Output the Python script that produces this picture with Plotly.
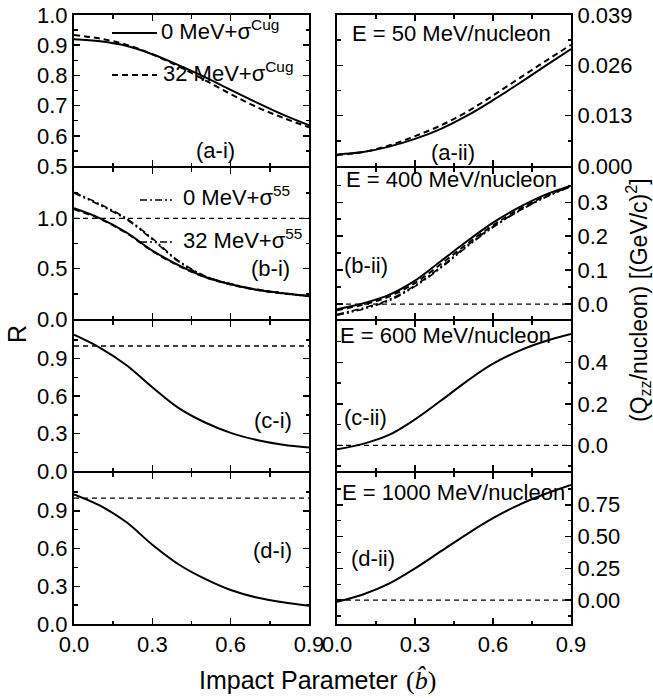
import plotly.graph_objects as go

W, H = 653, 698

# ---------------- data ----------------
B = [0.0, 0.1, 0.2, 0.3, 0.4, 0.5, 0.6, 0.7, 0.8, 0.9]

# (a-i) R, E = 50 MeV/nucleon
A_I_0CUG = [0.920, 0.913, 0.898, 0.870, 0.834, 0.795, 0.752, 0.710, 0.670, 0.635]
A_I_32CUG = [0.934, 0.922, 0.902, 0.870, 0.830, 0.785, 0.738, 0.695, 0.660, 0.628]
# (a-ii) Qzz
A_II_0CUG = [0.0030, 0.0036, 0.0050, 0.0070, 0.0096, 0.0130, 0.0170, 0.0213, 0.0258, 0.0302]
A_II_32CUG = [0.0028, 0.0036, 0.0053, 0.0077, 0.0105, 0.0140, 0.0182, 0.0226, 0.0270, 0.0313]

# (b-i) R, E = 400 MeV/nucleon
B_I_0CUG = [1.10, 1.00, 0.86, 0.68, 0.535, 0.42, 0.345, 0.29, 0.255, 0.228]
B_I_32CUG = [1.09, 0.995, 0.855, 0.675, 0.530, 0.418, 0.343, 0.289, 0.254, 0.227]
B_I_0S55 = [1.26, 1.14, 1.00, 0.80, 0.58, 0.43, 0.35, 0.295, 0.258, 0.230]
B_I_32S55 = [1.25, 1.13, 0.99, 0.79, 0.57, 0.425, 0.347, 0.293, 0.257, 0.229]
# (b-ii) Qzz
B_II_0CUG = [-0.015, 0.002, 0.027, 0.069, 0.127, 0.185, 0.240, 0.285, 0.322, 0.349]
B_II_32CUG = [-0.018, -0.002, 0.022, 0.062, 0.118, 0.177, 0.232, 0.279, 0.318, 0.347]
B_II_0S55 = [-0.030, -0.012, 0.013, 0.055, 0.110, 0.172, 0.228, 0.275, 0.315, 0.347]
B_II_32S55 = [-0.033, -0.015, 0.010, 0.052, 0.107, 0.169, 0.226, 0.274, 0.314, 0.346]

# (c-i) R, E = 600 MeV/nucleon
C_I = [1.09, 0.985, 0.848, 0.670, 0.505, 0.390, 0.305, 0.248, 0.210, 0.187]
# (c-ii) Qzz
C_II = [-0.019, 0.007, 0.050, 0.125, 0.216, 0.310, 0.394, 0.456, 0.502, 0.537]

# (d-i) R, E = 1000 MeV/nucleon
D_I = [1.03, 0.940, 0.810, 0.630, 0.475, 0.360, 0.270, 0.210, 0.172, 0.145]
# (d-ii) Qzz
D_II = [-0.013, 0.045, 0.130, 0.250, 0.385, 0.520, 0.645, 0.750, 0.835, 0.906]

REF_X = [0.0, 0.9]
REF_R = [1.0, 1.0]
REF_Q = [0.0, 0.0]

ENERGY_LABELS = ["E = 50 MeV/nucleon", "E = 400 MeV/nucleon",
                 "E = 600 MeV/nucleon", "E = 1000 MeV/nucleon"]
PANEL_LEFT = ["(a-i)", "(b-i)", "(c-i)", "(d-i)"]
PANEL_RIGHT = ["(a-ii)", "(b-ii)", "(c-ii)", "(d-ii)"]

X_TICKS = [0.0, 0.3, 0.6, 0.9]
LEFT_RANGES = [[0.5, 1.0], [0.0, 1.5], [0.0, 1.2], [0.0, 1.2]]
LEFT_TICKS = [[0.5, 0.6, 0.7, 0.8, 0.9, 1.0], [0.0, 0.5, 1.0],
              [0.0, 0.3, 0.6, 0.9], [0.0, 0.3, 0.6, 0.9]]
LEFT_MINOR = [0.05, 0.25, 0.15, 0.15]
RIGHT_RANGES = [[0.0, 0.039], [-0.044, 0.401], [-0.124, 0.6], [-0.1875, 1.0]]
RIGHT_TICKS = [[0.0, 0.013, 0.026, 0.039], [0.0, 0.1, 0.2, 0.3],
               [0.0, 0.2, 0.4], [0.0, 0.25, 0.5, 0.75]]
RIGHT_FMT = [".3f", ".1f", ".1f", ".2f"]
RIGHT_MINOR = [0.0065, 0.05, 0.1, 0.125]

# ---------------- layout geometry ----------------
FONT = "Liberation Sans, Arial, sans-serif"
FS = 22
XL = [74 / W, 309 / W]
XR = [337 / W, 571 / W]
# rows leave a 2 px gap so the shared frame lines overlap exactly
ROWS_PX = [(15, 166), (168, 319), (321, 471), (473, 624)]


def px(x):
    return x / W


def py(y):
    return 1 - y / H


fig = go.Figure()

DASH = "6px,4px"
DASHDOT = "7px,3px,2px,3px"
DASHDOTDOT = "7px,3px,2px,3px,2px,3px"
REFDASH = "5px,4px"


def add(i, y, dash="solid", width=2.0):
    fig.add_trace(go.Scatter(
        x=B, y=y, mode="lines", xaxis=f"x{i}", yaxis=f"y{i}",
        line=dict(color="black", width=width, dash=dash, shape="spline", smoothing=1.0),
        showlegend=False, hoverinfo="skip"))


def add_ref(i, y):
    fig.add_trace(go.Scatter(
        x=REF_X, y=y, mode="lines", xaxis=f"x{i}", yaxis=f"y{i}",
        line=dict(color="black", width=1.3, dash=REFDASH),
        showlegend=False, hoverinfo="skip"))


# row 1
add(1, A_I_0CUG)
add(1, A_I_32CUG, DASH)
add(2, A_II_0CUG)
add(2, A_II_32CUG, DASH)
# row 2
add_ref(3, REF_R)
add(3, B_I_32CUG, DASH)
add(3, B_I_0S55, DASHDOT, 1.6)
add(3, B_I_32S55, DASHDOTDOT, 1.6)
add(3, B_I_0CUG)
add_ref(4, REF_Q)
add(4, B_II_32CUG, DASH)
add(4, B_II_0S55, DASHDOT, 1.6)
add(4, B_II_32S55, DASHDOTDOT, 1.6)
add(4, B_II_0CUG)
# row 3
add_ref(5, REF_R)
add(5, C_I)
add_ref(6, REF_Q)
add(6, C_II)
# row 4
add_ref(7, REF_R)
add(7, D_I)
add_ref(8, REF_Q)
add(8, D_II)

layout = dict(
    width=W, height=H,
    margin=dict(l=0, r=0, t=0, b=0),
    paper_bgcolor="white", plot_bgcolor="white",
    showlegend=False,
    font=dict(family=FONT, size=FS, color="black"),
)

common_axis = dict(
    showline=True, linecolor="black", linewidth=2, mirror="ticks",
    ticks="inside", ticklen=6, tickwidth=1.5, tickcolor="black",
    showgrid=False, zeroline=False, automargin=False, fixedrange=True,
    tickfont=dict(family=FONT, size=FS, color="black"),
)

for r in range(4):
    top, bot = ROWS_PX[r]
    ydom = [py(bot), py(top)]
    for c in range(2):
        i = r * 2 + c + 1
        xd = XL if c == 0 else XR
        xa = dict(common_axis)
        xa.update(domain=xd, range=[0, 0.9], anchor=f"y{i}",
                  tickmode="array", tickvals=X_TICKS, tickformat=".1f",
                  showticklabels=(r == 3),
                  minor=dict(tickmode="linear", tick0=0, dtick=0.15, ticks="inside",
                             ticklen=3.5, tickwidth=1.5, tickcolor="black"))
        ya = dict(common_axis)
        if c == 0:
            ya.update(domain=ydom, range=LEFT_RANGES[r], anchor=f"x{i}", side="left",
                      tickmode="array", tickvals=LEFT_TICKS[r], tickformat=".1f",
                      minor=dict(tickmode="linear", tick0=0, dtick=LEFT_MINOR[r],
                                 ticks="inside", ticklen=3.5, tickwidth=1.5,
                                 tickcolor="black"))
        else:
            ya.update(domain=ydom, range=RIGHT_RANGES[r], anchor=f"x{i}", side="right",
                      tickmode="array", tickvals=RIGHT_TICKS[r], tickformat=RIGHT_FMT[r],
                      minor=dict(tickmode="linear", tick0=0, dtick=RIGHT_MINOR[r],
                                 ticks="inside", ticklen=3.5, tickwidth=1.5,
                                 tickcolor="black"))
        layout[f"xaxis{i}"] = xa
        layout[f"yaxis{i}"] = ya

fig.update_layout(**layout)

ann = []


def text(x, y, s, xanchor="left", size=FS, family=FONT, angle=0):
    ann.append(dict(x=px(x), y=py(y), xref="paper", yref="paper", text=s,
                    showarrow=False, xanchor=xanchor, yanchor="middle",
                    textangle=angle, font=dict(family=family, size=size, color="black")))


# panel labels
text(215, 150, PANEL_LEFT[0], "center")
text(270, 268, PANEL_LEFT[1], "center")
text(273, 420, PANEL_LEFT[2], "center")
text(272, 550, PANEL_LEFT[3], "center")
text(453, 152, PANEL_RIGHT[0], "center")
text(342, 265, PANEL_RIGHT[1], "left")
text(342, 417, PANEL_RIGHT[2], "left")
text(349, 558, PANEL_RIGHT[3], "left")
# energies
text(350, 33, ENERGY_LABELS[0])
text(344, 180, ENERGY_LABELS[1])
text(338, 335, ENERGY_LABELS[2])
text(340, 492, ENERGY_LABELS[3])
# legend texts
text(159, 30, "0 MeV+σ<sup>Cug</sup>")
text(161, 72, "32 MeV+σ<sup>Cug</sup>")
text(181, 196, "0 MeV+σ<sup>55</sup>")
text(181, 239, "32 MeV+σ<sup>55</sup>")
# axis titles
text(17, 334, "R", "center", size=25, angle=-90)
text(638, 300, "(Q<sub>zz</sub>/nucleon) [(GeV/c)<sup>2</sup>]", "center", size=23, angle=-90)
text(197, 680, "Impact Parameter", "left", size=25)
text(404, 680, "(<i>b\u0302</i>)", "left", size=26, family="Liberation Serif, Times New Roman, serif")

fig.update_layout(annotations=ann)

# legend line samples
shapes = []


def sample(x0, x1, y, dash, width=2.0):
    shapes.append(dict(type="line", xref="paper", yref="paper",
                       x0=px(x0), x1=px(x1), y0=py(y), y1=py(y),
                       line=dict(color="black", width=width, dash=dash)))


sample(112, 157, 33, "solid")
sample(112, 157, 75, DASH)
sample(140, 172, 200, DASHDOT, 1.6)
sample(140, 172, 242, DASHDOTDOT, 1.6)
fig.update_layout(shapes=shapes)

fig.write_html(
    "out.html",
    config={"displayModeBar": False, "staticPlot": True},
    post_script="document.body.style.margin='0px';document.body.style.overflow='hidden';",
)
